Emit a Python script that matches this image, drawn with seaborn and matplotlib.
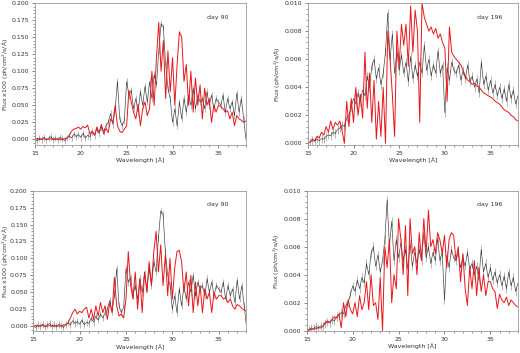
import numpy as np
import pandas as pd
import matplotlib
matplotlib.use('Agg')
import matplotlib.pyplot as plt
import seaborn as sns
from matplotlib.ticker import MultipleLocator

# wavelength grid in Angstrom
wave = np.arange(15.0, 38.001, 0.25)

# day 90: observed flux x100 (black) and two models (red)
obs_90 = [0.001, -0.002, 0.002, 0.000, 0.003, -0.001, 0.002, 0.004, 0.000, 0.002, -0.001, 0.003, 0.001, -0.002, 0.002,
          0.005, 0.002, 0.008, 0.004, 0.007, 0.003, 0.009, 0.002, 0.006, 0.004,
          0.012, 0.006, 0.015, 0.009, 0.018, 0.012, 0.020, 0.025,
          0.038, 0.022, 0.045, 0.085, 0.030, 0.020, 0.028, 0.085,
          0.065, 0.072, 0.045, 0.060, 0.040, 0.070, 0.050, 0.078,
          0.055, 0.085, 0.060, 0.095, 0.080, 0.130, 0.170, 0.165,
          0.110, 0.075, 0.060, 0.025, 0.045, 0.020, 0.055, 0.030,
          0.060, 0.040, 0.065, 0.050, 0.075, 0.045, 0.065, 0.055,
          0.060, 0.045, 0.070, 0.050, 0.065, 0.045, 0.060, 0.055,
          0.050, 0.065, 0.040, 0.060, 0.045, 0.055, 0.035, 0.068,
          0.040, 0.060, 0.030, 0.000]
model_90a = [0.000, 0.001, 0.000, 0.000, 0.001, 0.000, 0.000, 0.001, 0.000, 0.000, 0.001, 0.000, 0.000, 0.001, 0.002,
             0.006, 0.012, 0.015, 0.016, 0.018, 0.015, 0.019, 0.017, 0.021, 0.008,
             0.012, 0.006, 0.018, 0.010, 0.022, 0.008, 0.016, 0.010,
             0.030, 0.025, 0.050, 0.020, 0.012, 0.010, 0.015, 0.020,
             0.072, 0.055, 0.040, 0.030, 0.052, 0.020, 0.045, 0.055,
             0.035, 0.045, 0.100, 0.050, 0.120, 0.172, 0.100, 0.145,
             0.060, 0.130, 0.070, 0.120, 0.050, 0.110, 0.158, 0.150,
             0.085, 0.110, 0.050, 0.100, 0.040, 0.090, 0.050, 0.080,
             0.030, 0.075, 0.050, 0.060, 0.025, 0.050, 0.040, 0.050,
             0.048, 0.045, 0.040, 0.042, 0.030, 0.040, 0.020, 0.035,
             0.030, 0.028, 0.025, 0.027]
model_90b = [0.000, 0.001, 0.000, 0.000, 0.001, 0.000, 0.000, 0.001, 0.000, 0.000, 0.001, 0.000, 0.000, 0.002, 0.002,
             0.005, 0.012, 0.020, 0.025, 0.018, 0.022, 0.020, 0.025, 0.028, 0.012,
             0.025, 0.010, 0.030, 0.015, 0.035, 0.020, 0.030, 0.010,
             0.035, 0.020, 0.072, 0.030, 0.015, 0.018, 0.012, 0.040,
             0.110, 0.060, 0.040, 0.080, 0.025, 0.070, 0.020, 0.080,
             0.050, 0.095, 0.060, 0.110, 0.140, 0.080, 0.120, 0.060,
             0.105, 0.045, 0.100, 0.040, 0.085, 0.110, 0.112, 0.095,
             0.050, 0.080, 0.030, 0.075, 0.020, 0.065, 0.030, 0.060,
             0.020, 0.055, 0.040, 0.050, 0.020, 0.050, 0.040, 0.045,
             0.045, 0.040, 0.042, 0.035, 0.040, 0.030, 0.025, 0.032,
             0.030, 0.026, 0.024, 0.022]

# day 196: flux in units of 1e-3 ph/cm2/s/A
obs_196 = [0.0, 0.1, 0.2, 0.15, 0.3, 0.2, 0.35, 0.3, 0.5, 0.6, 0.55, 0.8, 0.7, 1.0, 1.1,
           1.3, 1.2, 1.8, 2.0, 2.6, 3.2, 2.8, 3.6, 3.0, 3.8,
           3.4, 4.8, 4.0, 5.5, 6.0, 4.6, 5.4, 4.2,
           5.0, 6.5, 9.3, 6.0, 7.8, 5.0, 6.5, 5.2,
           6.3, 5.0, 5.8, 4.4, 6.2, 4.6, 5.6, 4.8,
           5.8, 5.0, 7.0, 5.2, 6.0, 4.8, 5.6, 5.0,
           6.6, 5.0, 5.6, 2.2, 5.4, 4.5, 5.8, 5.2,
           5.0, 5.6, 4.5, 5.2, 4.6, 5.6, 4.4, 4.8,
           4.0, 4.6, 3.6, 5.8, 4.2, 4.8, 3.8, 4.5,
           3.6, 4.2, 3.4, 4.0, 3.2, 3.9, 3.0, 4.2,
           3.2, 3.8, 2.8, 3.4]
model_196a = [0.0, 0.1, 0.3, 0.2, 0.5, 0.4, 0.8, 0.6, 1.2, 0.8, 1.6, 1.0, 1.5, 1.3, 1.6,
              0.9, 0.0, 3.0, 1.2, 3.2, 1.5, 4.0, 2.0, 3.5, 1.8,
              6.5, 2.5, 5.0, 1.5, 4.5, 0.3, 3.0, 0.5,
              4.0, 0.0, 8.0, 6.0, 3.5, 0.5, 8.0, 5.5,
              8.5, 7.0, 8.5, 5.5, 9.8, 6.5, 9.5, 8.0,
              1.5, 10.0, 9.0, 8.5, 8.0, 8.3, 7.8, 8.2,
              7.5, 7.8, 7.2, 6.8, 3.0, 8.3, 6.5, 6.2,
              6.0, 5.8, 5.6, 5.2, 4.8, 4.5, 4.4, 4.2,
              4.3, 4.1, 4.0, 3.8, 3.6, 3.5, 3.4, 3.3,
              3.2, 3.0, 2.9, 2.8, 2.6, 2.4, 2.3, 2.2,
              2.0, 1.9, 1.7, 1.6]
model_196b = [0.0, 0.05, 0.1, 0.1, 0.15, 0.2, 0.2, 0.3, 0.6, 0.7, 0.6, 0.8, 1.0, 0.9, 1.2,
              0.2, 2.0, 1.0, 2.2, 1.5, 1.2, 2.0, 1.0, 2.5, 1.5,
              2.0, 3.5, 1.5, 4.0, 1.8, 2.0, 0.8, 3.8,
              0.0, 6.0, 4.5, 6.5, 2.0, 4.0, 3.0, 8.0,
              6.5, 4.0, 7.5, 2.5, 8.0, 5.5, 6.0, 4.0,
              7.0, 5.0, 8.0, 5.5, 8.6, 6.0, 6.5, 5.5,
              7.0, 6.5, 5.5, 6.8, 4.5, 6.5, 7.0, 6.8,
              5.0, 6.0, 3.5, 5.5, 3.0, 1.8, 4.5, 3.0,
              5.0, 2.5, 4.5, 2.8, 4.0, 2.5, 3.5, 3.5,
              3.0, 2.8, 1.6, 2.6, 2.2, 2.0, 2.4, 1.8,
              2.2, 2.0, 1.8, 1.7]

err_90 = 0.005
err_196 = 0.0003

sns.set_theme(style='ticks', rc={
    'axes.edgecolor': '#999999',
    'axes.linewidth': 0.6,
    'xtick.color': '#555555',
    'ytick.color': '#555555',
    'xtick.labelcolor': '#333333',
    'ytick.labelcolor': '#333333',
    'xtick.major.size': 2.5,
    'ytick.major.size': 2.5,
    'xtick.minor.size': 1.3,
    'ytick.minor.size': 1.3,
    'xtick.major.width': 0.5,
    'ytick.major.width': 0.5,
    'xtick.minor.width': 0.4,
    'ytick.minor.width': 0.4,
    'font.size': 4.5,
    'axes.labelsize': 4.5,
    'xtick.labelsize': 4.5,
    'ytick.labelsize': 4.5,
    'axes.labelcolor': '#333333',
})
plt.rcParams['font.family'] = ['DejaVu Sans']

fig = plt.figure(figsize=(5.2, 3.53), dpi=100)
positions = [
    [0.067, 0.589, 0.406, 0.402],
    [0.592, 0.589, 0.404, 0.402],
    [0.064, 0.061, 0.410, 0.399],
    [0.590, 0.062, 0.406, 0.398],
]
ybottoms = [-0.0084, -0.00012, -0.0078, -0.00003]
ylabel_x = [-0.112, -0.118, -0.106, -0.118]
panels = [
    (obs_90, model_90a, 1.0, err_90, 0.2, 0.025, 'day 90', 'Flux x100 (ph/cm$^2$/s/Å)'),
    (obs_196, model_196a, 1e-3, err_196, 0.010, 0.002, 'day 196', 'Flux (ph/cm$^2$/s/Å)'),
    (obs_90, model_90b, 1.0, err_90, 0.2, 0.025, 'day 90', 'Flux x100 (ph/cm$^2$/s/Å)'),
    (obs_196, model_196b, 1e-3, err_196, 0.010, 0.002, 'day 196', 'Flux (ph/cm$^2$/s/Å)'),
]

for pos, ybot, lx, (obs, mod, scale, err, ytop, ystep, label, ylab) in zip(positions, ybottoms, ylabel_x, panels):
    ax = fig.add_axes(pos)
    df = pd.DataFrame({'wave': wave, 'obs': np.array(obs) * scale, 'model': np.array(mod) * scale})
    ax.errorbar(df['wave'], df['obs'], yerr=err, fmt='none', ecolor='black',
                elinewidth=0.5, alpha=0.4, capsize=0)
    sns.lineplot(data=df, x='wave', y='obs', ax=ax, color='black', lw=0.5, alpha=0.7)
    sns.lineplot(data=df, x='wave', y='model', ax=ax, color='#e8161b', lw=0.7)
    ax.set_xlim(15, 38)
    ax.set_ylim(ybot, ytop)
    ax.yaxis.set_major_locator(MultipleLocator(ystep))
    ax.yaxis.set_minor_locator(MultipleLocator(ystep / 5))
    ax.xaxis.set_major_locator(MultipleLocator(5))
    ax.xaxis.set_minor_locator(MultipleLocator(1))
    ax.yaxis.set_major_formatter(plt.FormatStrFormatter('%.3f'))
    ax.set_xlabel('Wavelength [Å]', labelpad=1.5)
    ax.set_ylabel(ylab)
    ax.yaxis.set_label_coords(lx, 0.5)
    ax.tick_params(pad=1.5)
    ax.text(0.865, 0.9, label, transform=ax.transAxes, ha='center', va='center',
            fontsize=4.5, color='#333333')
    for s in ax.spines.values():
        s.set_visible(True)

fig.savefig('out.png', dpi=100)
